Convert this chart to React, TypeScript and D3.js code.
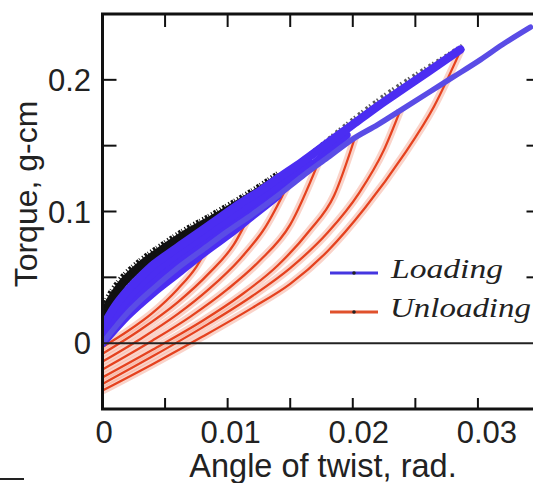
import React from "react";
import * as d3 from "d3";

// ---- data (angle of twist [rad], torque [g-cm]) ----
const xMajorTicks = [0, 0.01, 0.02, 0.03];
const xTickLabels = ["0", "0.01", "0.02", "0.03"];
const xMinorTicks = [0.005, 0.01, 0.015, 0.02, 0.025, 0.03];
const yMajorTicks = [0, 0.1, 0.2];
const yTickLabels = ["0", "0.1", "0.2"];
const yMinorTicks = [0.05, 0.1, 0.15, 0.2];

// raw (black) loading scatter upper edge
const rawEdgeDense: [number, number][] = [
  [0, 0.02], [0.0007, 0.033], [0.0014, 0.043], [0.0032, 0.06], [0.0051, 0.073],
  [0.0067, 0.083], [0.0086, 0.093], [0.0104, 0.103], [0.0123, 0.114], [0.0142, 0.126],
];
const rawEdgeSparse: [number, number][] = [
  [0.0142, 0.126], [0.016, 0.138], [0.019, 0.161], [0.0206, 0.173], [0.023, 0.19],
  [0.0246, 0.2], [0.0278, 0.219], [0.0288, 0.225],
];

// loading curves (blue)
const loadingA: [number, number][] = [
  [0, 0.012], [0.001, 0.028], [0.002, 0.04], [0.003, 0.05], [0.004, 0.059], [0.005, 0.066],
  [0.0065, 0.076], [0.008, 0.086], [0.0095, 0.096], [0.011, 0.106], [0.0125, 0.115],
  [0.014, 0.125], [0.016, 0.138], [0.018, 0.152], [0.02, 0.166], [0.022, 0.18],
  [0.024, 0.193], [0.026, 0.206], [0.0286, 0.223],
];
const loadingB: [number, number][] = [
  [0, 0.003], [0.002, 0.027], [0.004, 0.046], [0.006, 0.061], [0.008, 0.075], [0.01, 0.088],
  [0.012, 0.101], [0.014, 0.115], [0.016, 0.129], [0.018, 0.145], [0.0195, 0.158],
];
const loadingF: [number, number][] = [
  [0, 0.008], [0.002, 0.034], [0.004, 0.053], [0.006, 0.068], [0.008, 0.081], [0.01, 0.094],
  [0.012, 0.107], [0.014, 0.12], [0.0165, 0.137],
];
const loadingC: [number, number][] = [
  [0, 0.0], [0.002, 0.021], [0.004, 0.038], [0.006, 0.053], [0.008, 0.068], [0.01, 0.082],
  [0.012, 0.097], [0.014, 0.112],
];
const loadingE: [number, number][] = [
  [0, 0.005], [0.002, 0.031], [0.004, 0.051], [0.006, 0.066], [0.008, 0.079], [0.0095, 0.089],
];
const loadingD: [number, number][] = [
  [0, 0.0], [0.002, 0.023], [0.004, 0.041], [0.006, 0.057], [0.008, 0.071], [0.01, 0.085],
  [0.012, 0.098], [0.014, 0.112], [0.016, 0.127], [0.018, 0.141], [0.02, 0.155],
  [0.022, 0.166], [0.024, 0.178], [0.026, 0.19], [0.028, 0.202], [0.03, 0.214],
  [0.032, 0.227], [0.0342, 0.24],
];

// unloading curves (red)
const unloading1: [number, number][] = [[0, -0.003], [0.002, 0.009], [0.004, 0.023], [0.006, 0.041], [0.0075, 0.058], [0.0088, 0.08]];
const unloading2: [number, number][] = [[0, -0.008], [0.003, 0.01], [0.006, 0.031], [0.0085, 0.053], [0.0105, 0.075], [0.0118, 0.098]];
const unloading3: [number, number][] = [[0, -0.014], [0.003, 0.003], [0.006, 0.022], [0.0085, 0.041], [0.011, 0.064], [0.013, 0.088], [0.0148, 0.12]];
const unloading4: [number, number][] = [[0, -0.02], [0.004, 0.002], [0.007, 0.02], [0.01, 0.041], [0.0125, 0.062], [0.015, 0.09], [0.0172, 0.136]];
const unloading5: [number, number][] = [[0, -0.026], [0.004, -0.005], [0.008, 0.017], [0.011, 0.036], [0.014, 0.059], [0.0165, 0.085], [0.0185, 0.112], [0.0202, 0.157]];
const unloading6: [number, number][] = [[0, -0.031], [0.004, -0.01], [0.008, 0.012], [0.012, 0.036], [0.015, 0.057], [0.018, 0.084], [0.0205, 0.114], [0.0225, 0.147], [0.0238, 0.177]];
const unloading7: [number, number][] = [
  [0, -0.036], [0.004, -0.016], [0.008, 0.005], [0.012, 0.027], [0.015, 0.045], [0.018, 0.07],
  [0.021, 0.103], [0.024, 0.142], [0.0265, 0.18], [0.0286, 0.222],
];

const loadingSeries = [loadingE, loadingC, loadingB, loadingF, loadingD, loadingA];
const unloadingSeries = [unloading1, unloading2, unloading3, unloading4, unloading5, unloading6, unloading7];

const legendLabels = ["Loading", "Unloading"];

const W = 533;
const H = 483;

export default function App() {
  const x = d3.scaleLinear().domain([0, 0.035]).range([102.5, 540.5]);
  const y = d3.scaleLinear().domain([-0.05, 0.25]).range([409, 14]);
  const line = d3
    .line<[number, number]>()
    .x((d) => x(d[0]))
    .y((d) => y(d[1]))
    .curve(d3.curveMonotoneX);

  const [x0, x1] = x.range();
  const [yb, yt] = y.range();
  const blue = "#4b2df2";
  const red = "#e5421f";

  return (
    <div style={{ position: "fixed", left: 0, top: 0 }}>
      <svg width={W} height={H} style={{ display: "block", background: "#fff" }}>
        <defs>
          <clipPath id="plot">
            <rect x={x0} y={yt} width={x1 - x0} height={yb - yt} />
          </clipPath>
        </defs>
        <g clipPath="url(#plot)">
          {/* unloading halos */}
          {unloadingSeries.map((s, i) => (
            <path key={"h" + i} d={line(s) || ""} fill="none" stroke="#f6a894" strokeWidth={8} opacity={0.5} />
          ))}
          {unloadingSeries.map((s, i) => (
            <path key={"u" + i} d={line(s) || ""} fill="none" stroke={red} strokeWidth={2.3} />
          ))}
          {/* raw loading data (black) */}
          <path d={line(rawEdgeDense) || ""} fill="none" stroke="#111" strokeWidth={9} />
          <path d={line(rawEdgeDense) || ""} fill="none" stroke="#111" strokeWidth={14} strokeDasharray="1.2 1.8 2.5 1.2 0.8 2.6" />
          <path d={line(rawEdgeSparse) || ""} fill="none" stroke="#333" strokeWidth={7} strokeDasharray="1.5 3.5 2.5 2" opacity={0.8} />
          {/* loading curves */}
          {loadingSeries.map((s, i) => (
            <path
              key={"l" + i}
              d={line(s) || ""}
              fill="none"
              stroke={i === 4 ? "#5a4ce6" : blue}
              strokeWidth={i === 4 ? 5.5 : 8.5}
              strokeLinecap="round"
            />
          ))}
          {/* zero line */}
          <line x1={x0} x2={x1} y1={y(0)} y2={y(0)} stroke="#222" strokeWidth={2} />
        </g>

        {/* legend */}
        <g>
          <line x1={330} x2={378} y1={273} y2={273} stroke="#4536e0" strokeWidth={3} />
          <circle cx={354} cy={273} r={1.8} fill="#222" />
          <text x={391} y={278} fontFamily="'Liberation Serif', 'Times New Roman', serif" fontStyle="italic" fontSize={27} textLength={112} lengthAdjust="spacingAndGlyphs" fill="#222">
            {legendLabels[0]}
          </text>
          <line x1={330} x2={378} y1={312} y2={312} stroke="#e0512c" strokeWidth={3} />
          <circle cx={354} cy={312} r={1.8} fill="#222" />
          <text x={390} y={317} fontFamily="'Liberation Serif', 'Times New Roman', serif" fontStyle="italic" fontSize={27} textLength={141} lengthAdjust="spacingAndGlyphs" fill="#222">
            {legendLabels[1]}
          </text>
        </g>

        {/* frame */}
        <g stroke="#111" strokeWidth={3} fill="none">
          <line x1={x0} x2={x0} y1={yt} y2={yb} />
          <line x1={x0 - 1.5} x2={x1} y1={yb} y2={yb} />
          <line x1={x0 - 1.5} x2={x1} y1={yt} y2={yt} />
          <line x1={x1} x2={x1} y1={yt} y2={yb} />
        </g>
        {/* ticks */}
        <g stroke="#111" strokeWidth={2}>
          {xMinorTicks.map((t) => (
            <g key={"xt" + t}>
              <line x1={x(t)} x2={x(t)} y1={yt} y2={yt + 13} />
              <line x1={x(t)} x2={x(t)} y1={yb} y2={yb - 11} />
            </g>
          ))}
          {yMinorTicks.map((t) => (
            <g key={"yt" + t}>
              <line x1={x0} x2={x0 + 14} y1={y(t)} y2={y(t)} />
              <line x1={x1} x2={x1 - 14} y1={y(t)} y2={y(t)} />
            </g>
          ))}
        </g>
        {/* tick labels */}
        <g fontFamily="'Liberation Sans', Arial, sans-serif" fontSize={31} fill="#222">
          {xMajorTicks.map((t, i) => (
            <text key={"xl" + t} x={x(t) + (i === 0 ? 1.5 : i * 3)} y={443} textAnchor="middle">
              {xTickLabels[i]}
            </text>
          ))}
          {yMajorTicks.map((t, i) => (
            <text key={"yl" + t} x={91} y={y(t) + 11} textAnchor="end">
              {yTickLabels[i]}
            </text>
          ))}
        </g>
        {/* axis titles */}
        <text x={323} y={477} textAnchor="middle" fontFamily="'Liberation Sans', Arial, sans-serif" fontSize={32.5} fill="#222">
          Angle of twist, rad.
        </text>
        <text transform="translate(37,194) rotate(-90)" textAnchor="middle" fontFamily="'Liberation Sans', Arial, sans-serif" fontSize={32} fill="#222">
          Torque, g-cm
        </text>
        {/* stray mark from original figure */}
        <line x1={0} x2={24} y1={479} y2={479} stroke="#222" strokeWidth={2} />
      </svg>
    </div>
  );
}
